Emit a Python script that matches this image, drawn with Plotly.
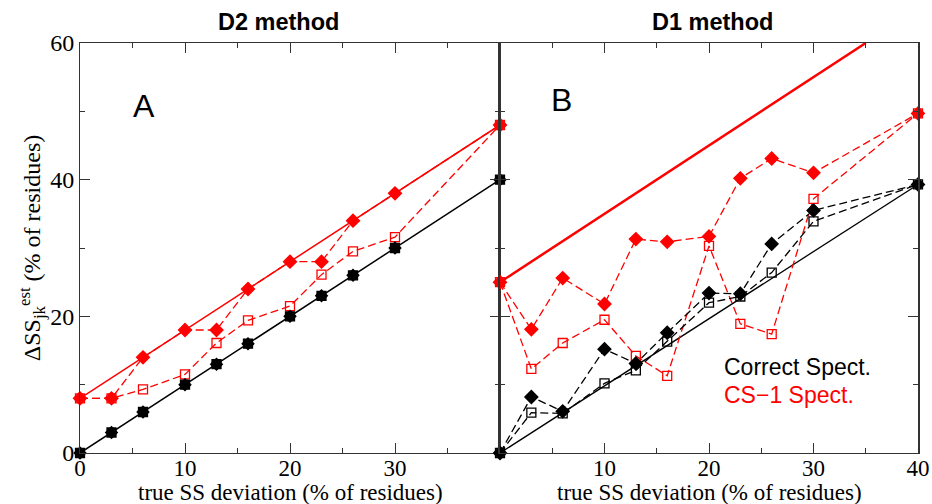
import plotly.graph_objects as go

# ---------------- data ----------------
x_vals = [0, 3, 6, 10, 13, 16, 20, 23, 26, 30, 40]

# Panel A (D2 method)
a_black = [0, 3, 6, 10, 13, 16, 20, 23, 26, 30, 40]
a_red_diamond = [8, 8, 14, 18, 18, 24, 28, 28, 34, 38, 48]
a_red_square = [8, 8, 9.3, 11.5, 16.1, 19.4, 21.5, 26.1, 29.5, 31.6, 48]
a_ref_black_x = [0, 40]
a_ref_black_y = [0, 40]
a_ref_red_x = [0, 40]
a_ref_red_y = [8, 48]

# Panel B (D1 method)
b_red_diamond = [25, 18.1, 25.6, 21.8, 31.3, 30.9, 31.7, 40.2, 43.1, 41.0, 49.7]
b_red_square = [25, 12.3, 16.1, 19.5, 14.2, 11.3, 30.3, 18.9, 17.4, 37.2, 49.7]
b_black_diamond = [0, 8.2, 6.1, 15.2, 13.1, 17.6, 23.4, 23.3, 30.6, 35.5, 39.3]
b_black_square = [0, 5.9, 5.8, 10.2, 12.1, 16.3, 22.0, 22.9, 26.4, 33.9, 39.3]
b_ref_black_x = [0, 40]
b_ref_black_y = [0, 39.3]
b_ref_red_x = [0, 35]
b_ref_red_y = [25, 60]

x_ticks_a = [0, 10, 20, 30]
x_ticks_b = [10, 20, 30, 40]
y_ticks = [0, 20, 40, 60]

x_title = "true SS deviation (% of residues)"
y_title = "ΔSS<sub>jk</sub><sup>est</sup> (% of residues)"

RED = "#ff0000"
BLACK = "#000000"
DASH = "8px,4px"

fig = go.Figure()

def line(x, y, color, width, xa, ya, dash="solid"):
    fig.add_trace(go.Scatter(x=x, y=y, mode="lines", xaxis=xa, yaxis=ya,
                             line=dict(color=color, width=width, dash=dash),
                             showlegend=False, hoverinfo="skip", cliponaxis=False))

def series(x, y, color, symbol, size, xa, ya, dash, width=1.3, show_line=True):
    fig.add_trace(go.Scatter(
        x=x, y=y, mode="lines+markers" if show_line else "markers",
        xaxis=xa, yaxis=ya,
        line=dict(color=color, width=width, dash=dash),
        marker=dict(symbol=symbol, size=size, color=color,
                    line=dict(color=color, width=1.3)),
        showlegend=False, cliponaxis=False))

# Panel A
line(a_ref_red_x, a_ref_red_y, RED, 1.5, "x", "y")
series(x_vals, a_red_square, RED, "square-open", 9, "x", "y", DASH)
series(x_vals, a_red_diamond, RED, "diamond", 10, "x", "y", DASH)
series(x_vals, a_black, BLACK, "square", 9, "x", "y", "solid", width=1.5)
series(x_vals, a_black, BLACK, "diamond", 9, "x", "y", DASH, show_line=False)

# Panel B
line(b_ref_red_x, b_ref_red_y, RED, 2.5, "x2", "y2")
line(b_ref_black_x, b_ref_black_y, BLACK, 1.3, "x2", "y2")
series(x_vals, b_red_square, RED, "square-open", 9, "x2", "y2", DASH)
series(x_vals, b_red_diamond, RED, "diamond", 10, "x2", "y2", DASH)
series(x_vals, b_black_square, BLACK, "square-open", 9, "x2", "y2", DASH)
series(x_vals, b_black_diamond, BLACK, "diamond", 10, "x2", "y2", DASH)

serif = "Liberation Serif"
sans = "Liberation Sans"

axis_common = dict(
    range=[0, 40], showline=True, linecolor="#333", linewidth=1, mirror="ticks",
    ticks="inside", ticklen=10, tickwidth=1, tickcolor="#333",
    minor=dict(dtick=5, ticks="inside", ticklen=5, tickcolor="#333", showgrid=False),
    showgrid=False, zeroline=False, automargin=False, ticklabelstandoff=-6,
    tickfont=dict(family=serif, size=23, color="black"),
)
dom_split = 420 / 838

fig.update_layout(
    width=932, height=504,
    margin=dict(l=80, r=14, t=43, b=51),
    plot_bgcolor="white", paper_bgcolor="white",
    font=dict(family=serif),
    xaxis=dict(domain=[0, dom_split], anchor="y", tickvals=x_ticks_a, **axis_common),
    xaxis2=dict(domain=[dom_split, 1], anchor="y2", tickvals=x_ticks_b, **axis_common),
    yaxis=dict(domain=[0, 1], anchor="x", range=[0, 60], tickvals=y_ticks,
               showline=True, linecolor="#333", linewidth=1, mirror="ticks",
               ticks="inside", ticklen=10, tickcolor="#333",
               minor=dict(dtick=10, ticks="inside", ticklen=5, tickcolor="#333", showgrid=False),
               showgrid=False, zeroline=False, automargin=False,
               tickfont=dict(family=serif, size=24, color="black"),
               title=dict(text=y_title,
                          font=dict(family=serif, size=24, color="black"), standoff=2)),
    yaxis2=dict(domain=[0, 1], anchor="x2", range=[0, 60], tickvals=y_ticks,
                showticklabels=False, automargin=False,
                showline=True, linecolor="#333", linewidth=2, mirror="ticks",
                ticks="inside", ticklen=10, tickcolor="#333",
                minor=dict(dtick=10, ticks="inside", ticklen=5, tickcolor="#333", showgrid=False),
                showgrid=False, zeroline=False),
    annotations=[
        dict(text=x_title, xref="paper", yref="paper", x=0.2506, y=-0.097,
             xanchor="center", yanchor="middle", showarrow=False,
             font=dict(family=serif, size=23, color="black")),
        dict(text=x_title, xref="paper", yref="paper", x=0.7506, y=-0.097,
             xanchor="center", yanchor="middle", showarrow=False,
             font=dict(family=serif, size=23, color="black")),
        dict(text="<b>D2 method</b>", xref="paper", yref="paper", x=0.2363, y=1.0512,
             xanchor="center", yanchor="middle", showarrow=False,
             font=dict(family=sans, size=23.5, color="black")),
        dict(text="<b>D1 method</b>", xref="paper", yref="paper", x=0.7542, y=1.0512,
             xanchor="center", yanchor="middle", showarrow=False,
             font=dict(family=sans, size=23.5, color="black")),
        dict(text="A", xref="x", yref="y", x=6.05, y=50.8, xanchor="center", yanchor="middle",
             showarrow=False, font=dict(family=sans, size=32, color="black")),
        dict(text="B", xref="x2", yref="y2", x=5.84, y=51.6, xanchor="center", yanchor="middle",
             showarrow=False, font=dict(family=sans, size=32, color="black")),
        dict(text="Correct Spect.", xref="x2", yref="y2", x=21.2, y=12.6, xanchor="left",
             yanchor="middle", showarrow=False, font=dict(family=sans, size=23, color="black")),
        dict(text="CS\u22121 Spect.", xref="x2", yref="y2", x=21.2, y=8.5, xanchor="left",
             yanchor="middle", showarrow=False, font=dict(family=sans, size=23, color=RED)),
    ],
)

fig.write_html("out.html")
